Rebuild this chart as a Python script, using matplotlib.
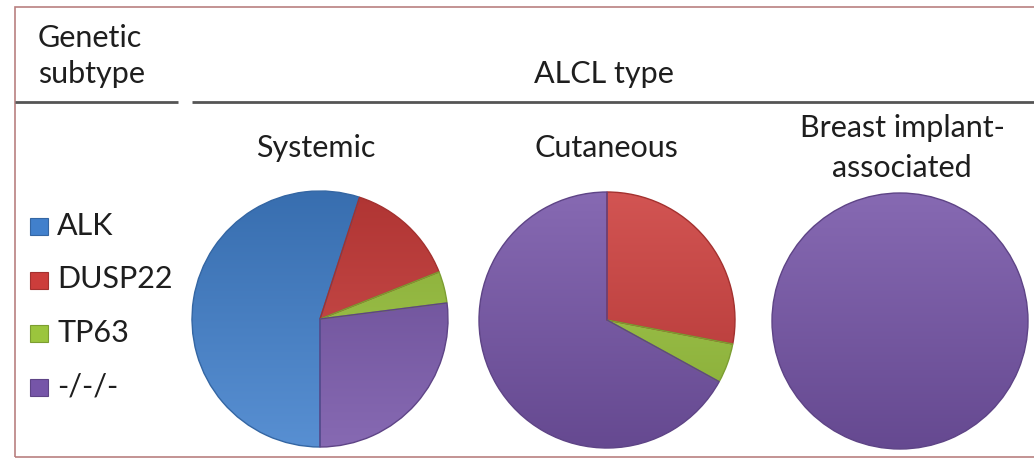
import numpy as np
import matplotlib
matplotlib.use("Agg")
import matplotlib.pyplot as plt
from matplotlib.colors import LinearSegmentedColormap, to_rgb
from matplotlib.patches import Rectangle

# --- data ---
subtypes = ["ALK", "DUSP22", "TP63", "-/-/-"]
subtype_colors = ["#4180cc", "#cc3d3b", "#9bc53d", "#7655a8"]
alcl_types = ["Systemic", "Cutaneous", "Breast implant-\nassociated"]
systemic = [55, 14, 4, 27]
cutaneous = [0, 28, 5, 67]
breast_implant = [0, 0, 0, 100]

W, H = 1034, 460
plt.rcParams['font.family'] = ['Lato', 'DejaVu Sans']
TXT = "#1e1e1e"
FS = 22

fig = plt.figure(figsize=(W / 100, H / 100), dpi=100)
ax = fig.add_axes([0, 0, 1, 1])
ax.set_xlim(0, W)
ax.set_ylim(0, H)
ax.set_aspect("equal")
ax.axis("off")


def Y(y):
    # pixel rows count downward, data y upward
    return H - y


def shade(c, f):
    r, g, b = to_rgb(c)
    if f >= 1:
        return tuple(min(1, v + (1 - v) * (f - 1)) for v in (r, g, b))
    return tuple(v * f for v in (r, g, b))


# outer frame
ax.add_patch(Rectangle((15, Y(458)), W, 450, fill=False, edgecolor="#b98080", lw=1.2))

# header
ax.text(38, Y(47), "Genetic", fontsize=FS, color=TXT, va="baseline")
ax.text(38, Y(83), "subtype", fontsize=FS, color=TXT, va="baseline")
ax.text(604, Y(83), "ALCL type", fontsize=FS, color=TXT, ha="center", va="baseline")
ax.plot([15, 178], [Y(103), Y(103)], color="#555555", lw=2, solid_capstyle="butt")
ax.plot([192, W], [Y(103), Y(103)], color="#555555", lw=2, solid_capstyle="butt")

# legend
for i, (name, col) in enumerate(zip(subtypes, subtype_colors)):
    base = 235 + i * 53.5
    ax.add_patch(Rectangle((30, Y(base + 1)), 18, 17, facecolor=col,
                           edgecolor=shade(col, 0.8), lw=0.8))
    ax.text(57, Y(base), name, fontsize=FS, color=TXT, va="baseline")

# pies
centers = [(320, 320), (607, 321), (900, 322)]
radius = 128
starts = [270, 90, 90]
light_top = [False, True, True]
title_x = [316, 606, 902]

for vals, (cx, cy), st, lt, title, tx in zip(
        [systemic, cutaneous, breast_implant], centers, starts, light_top, alcl_types, title_x):
    wedges, _ = ax.pie(vals, colors=subtype_colors, startangle=st, counterclock=False,
                       center=(cx, Y(cy)), radius=radius, frame=True,
                       wedgeprops=dict(lw=1.0))
    for w, col, v in zip(wedges, subtype_colors, vals):
        if v == 0:
            w.set_visible(False)
            continue
        w.set_edgecolor(shade(col, 0.8))
        top, bot = shade(col, 1.12), shade(col, 0.86)
        if not lt:
            top, bot = bot, top
        cmap = LinearSegmentedColormap.from_list("g", [bot, top])
        grad = np.linspace(0, 1, 256).reshape(-1, 1)
        im = ax.imshow(grad, cmap=cmap, origin="lower", aspect="auto",
                       extent=(cx - radius, cx + radius, Y(cy) - radius, Y(cy) + radius),
                       zorder=1)
        im.set_clip_path(w)
        w.set_facecolor("none")
        w.set_zorder(3)

    lines = title.split("\n")
    if len(lines) == 1:
        ax.text(tx, Y(157), lines[0], fontsize=FS, color=TXT, ha="center", va="baseline")
    else:
        ax.text(tx, Y(137), lines[0], fontsize=FS, color=TXT, ha="center", va="baseline")
        ax.text(tx, Y(177), lines[1], fontsize=FS, color=TXT, ha="center", va="baseline")

ax.set_xlim(0, W)
ax.set_ylim(0, H)
ax.axis("off")

fig.savefig("out.png", dpi=100, facecolor="white")
